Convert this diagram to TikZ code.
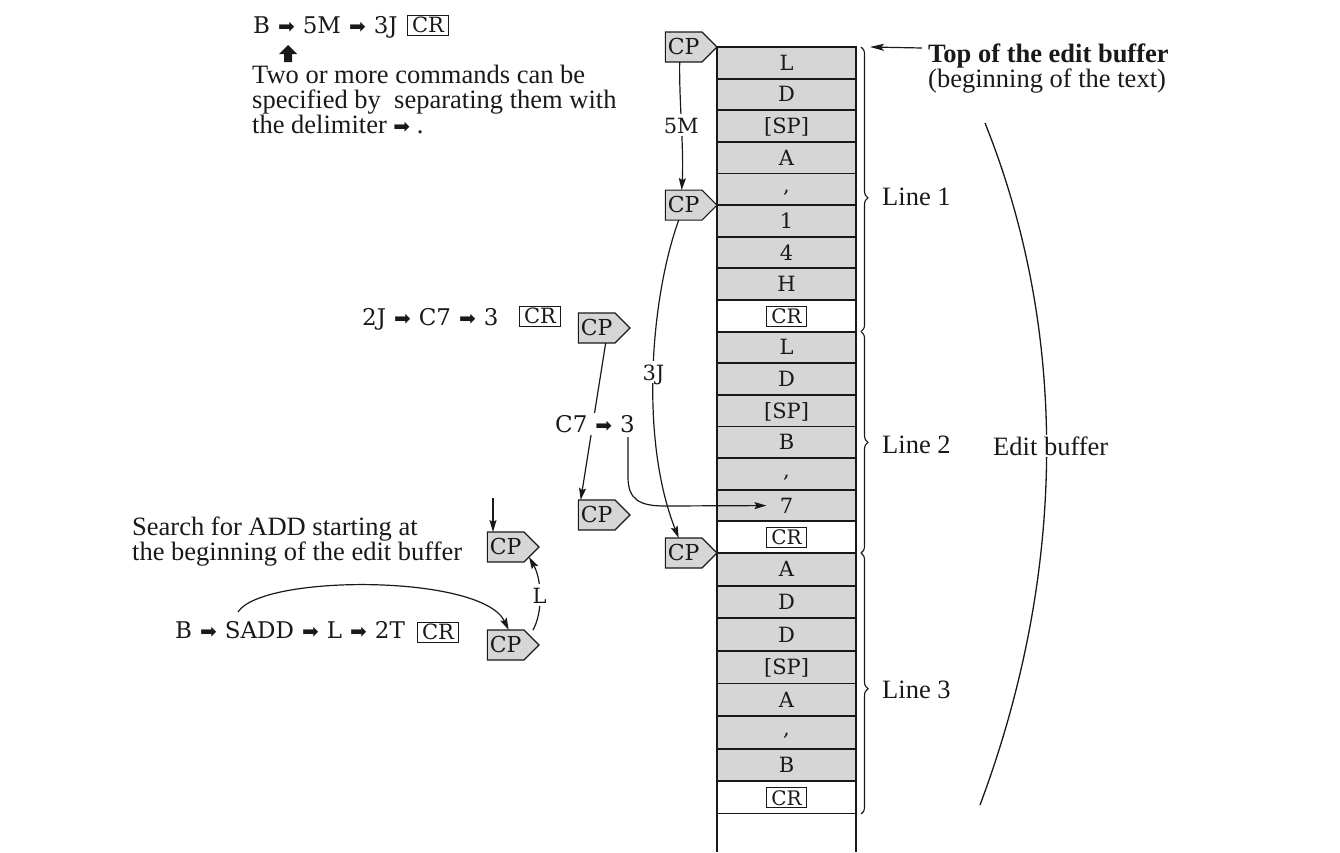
\documentclass[tikz,border=0pt]{standalone}
\usepackage{fontspec}
\setmainfont{Liberation Serif}
\newfontfamily\glyphfont{DejaVu Serif}
\newfontfamily\arrowfont{DejaVu Sans}
\usetikzlibrary{shapes.symbols,decorations.pathreplacing,arrows.meta,calc}

\definecolor{ink}{gray}{0.1}
\definecolor{cellgray}{gray}{0.84}

% heavy arrow used as the command delimiter
\newcommand\dlm{\hspace{8pt}{\arrowfont\fontsize{20}{20}\selectfont ➡}\hspace{8pt}}
% boxed carriage-return mark inside a buffer cell
\newcommand\crtag{{\fboxsep=2pt\fboxrule=0.9pt\fbox{\kern2.5pt\fontsize{20}{20}\selectfont CR\kern2.5pt}}}

\begin{document}
\begin{tikzpicture}[x=1pt,y=-1pt,
  txt/.style={font=\fontsize{26.5}{25}\selectfont, inner sep=0pt, text=ink},
  cmd/.style={font=\glyphfont\fontsize{23}{26}\selectfont, inner sep=0pt, text=ink,
              text height=17pt, text depth=1pt},
  arclbl/.style={cmd, font=\glyphfont\fontsize{21}{24}\selectfont, fill=white, inner sep=2pt},
  cell/.style={draw=ink, line width=1.8pt, minimum width=139pt, inner sep=0pt, outer sep=0pt,
               font=\glyphfont\fontsize{21}{21}\selectfont, text=ink, text height=15pt, text depth=0pt},
  cellg/.style={cell, fill=cellgray},
  cellw/.style={cell, fill=white},
  cpbox/.style={signal, signal to=east, signal pointer angle=90, draw=ink, line width=1.2pt,
                fill=cellgray, font=\glyphfont\fontsize{22}{22}\selectfont, text=ink,
                inner xsep=2.5pt, inner ysep=0pt, minimum height=30pt, outer sep=0pt,
                text height=15.5pt, text depth=0pt},
  crbox/.style={draw=ink, line width=0.9pt, inner xsep=5pt, inner ysep=2.5pt, text=ink,
                font=\glyphfont\fontsize{21}{21}\selectfont, text height=15pt, text depth=0pt},
  conn/.style={draw=ink, line width=1.2pt, -{Stealth[length=12pt,width=7pt,inset=2pt]}},
  brc/.style={draw=ink, line width=1.1pt, decorate}
]
\useasboundingbox (0,0) rectangle (1340,852);

% ---- edit buffer: one cell per character ----
\foreach \i/\t/\k in {1/L/g,2/D/g,3/{[SP]}/g,4/A/g,5/{\raisebox{4pt}{,}}/g,6/1/g,7/4/g,8/H/g,9/\crtag/w,
                      10/L/g,11/D/g,12/{[SP]}/g,13/B/g,14/{\raisebox{4pt}{,}}/g,15/7/g,16/\crtag/w,
                      17/A/g,18/D/g,19/D/g,20/{[SP]}/g,21/A/g,22/{\raisebox{4pt}{,}}/g,23/B/g,24/\crtag/w} {
  \pgfmathsetmacro\ya{(\i<=16) ? (47+(\i-1)*31.625) : (553+(\i-17)*32.625)}
  \pgfmathsetmacro\hh{(\i<=16) ? 31.625 : 32.625}
  \node[cell\k, minimum height=\hh pt] (c\i) at (786.5,\ya+\hh/2) {\t};
}
% free space below the text
\node[cellw, draw=none, minimum height=38pt] (c25) at (786.5,833) {};
\draw[ink, line width=1.8pt] (c25.north west) -- (c25.south west) (c25.north east) -- (c25.south east);

% ---- braces for the three lines ----
\draw[brc, decoration={brace, amplitude=7pt, aspect=0.53}] ([xshift=5pt]c1.north east) -- ([xshift=5pt]c9.south east);
\draw[brc, decoration={brace, amplitude=7pt, aspect=0.5}] ([xshift=5pt]c10.north east) -- ([xshift=5pt]c16.south east);
\draw[brc, decoration={brace, amplitude=7pt, aspect=0.52}] ([xshift=5pt]c17.north east) -- ([xshift=5pt]c24.south east);
\node[txt, anchor=west] (line1) at (882,197) {Line 1};
\node[txt, anchor=west] (line2) at (882,445) {Line 2};
\node[txt, anchor=west] (line3) at (882,690) {Line 3};

% ---- top of buffer ----
\node[txt, anchor=north west, align=left] (toplbl) at (928,44) {{\bfseries Top of the edit buffer}\\(beginning of the text)};
\coordinate (topfrom) at (922,48);
\draw[draw=ink, line width=1.2pt, -{Stealth[length=14pt,width=7pt,inset=3pt]}] (topfrom) -- ([xshift=14pt]c1.north east);

% ---- edit buffer bracket ----
\draw[ink, line width=1.3pt] (985,123) .. controls (1068,330) and (1068,570) .. (980,805);
\node[txt, anchor=west, fill=white, inner sep=2pt] (editbuf) at (991,446) {Edit buffer};

% ---- command 1 ----
\node[cmd, anchor=west] (cmdA) at (253,25) {B\dlm 5M\dlm 3J};
\node[crbox] (crA) at (428,25) {CR};
\fill[ink] (288,45) -- (297,54) -- (292,54) -- (292,62) -- (284,62) -- (284,54) -- (279,54) -- cycle;
\node[txt, anchor=north west, align=left] (twomore) at (252,65)
  {Two or more commands can be\\specified by~ separating them with\\the delimiter {\arrowfont\fontsize{20}{20}\selectfont ➡}\ .};

% ---- cursor pointers ----
\node[cpbox, anchor=east] (cp1) at (c1.north west) {CP};
\node[cpbox, anchor=east] (cp2) at (c6.north west) {CP};
\node[cpbox, anchor=east] (cp3) at (c17.north west) {CP};
\node[cpbox, anchor=east] (cp4) at (630,328) {CP};
\node[cpbox, anchor=east] (cp5) at (630,515) {CP};
\node[cpbox, anchor=east] (cp6) at (539,547) {CP};
\node[cpbox, anchor=east] (cp7) at (539,645) {CP};

\draw[conn] ([xshift=-4pt]cp1.south) .. controls (679,100) and (684,150) .. ([xshift=-2pt]cp2.north)
  node[arclbl, pos=0.5] {5M};
\draw[conn] ([xshift=-5pt]cp2.south) .. controls (650,300) and (640,440) .. ([xshift=-5pt]cp3.north)
  node[arclbl, pos=0.5] {3J};

% ---- command 2 ----
\node[cmd, anchor=west] (cmdB) at (362,317) {2J\dlm C7\dlm 3};
\node[crbox] (crB) at (540,316) {CR};
\draw[conn] ([xshift=9pt]cp4.south) -- ([xshift=-16pt]cp5.north);
\node[cmd, anchor=west, fill=white, inner sep=2pt] (cmdC) at (553,424) {C7\dlm 3};
\coordinate (c7three) at (628,437);
\draw[conn] (c7three) -- (628,477) .. controls (628,500) and (640,506) .. (665,506) -- ([xshift=-20pt]c15.center);

% ---- command 3 ----
\node[txt, anchor=north west, align=left] (search) at (132,517) {Search for ADD starting at\\the beginning of the edit buffer};
\coordinate (srchtop) at (493,498);
\draw[conn] (srchtop) -- (srchtop |- cp6.north);
\node[cmd, anchor=west] (cmdD) at (175,630) {B\dlm SADD\dlm L\dlm 2T};
\node[crbox] (crD) at (438,632) {CR};
\coordinate (saddtop) at (238,612);
\draw[conn] (saddtop) .. controls (262,574) and (482,574) .. ([xshift=3pt]cp7.north);
\draw[conn] ($(cp7.east)+(-6,-15)$) .. controls (543,612) and (542,580) .. ($(cp6.east)+(-10,10)$)
  node[arclbl, pos=0.5] {L};
\end{tikzpicture}
\end{document}
